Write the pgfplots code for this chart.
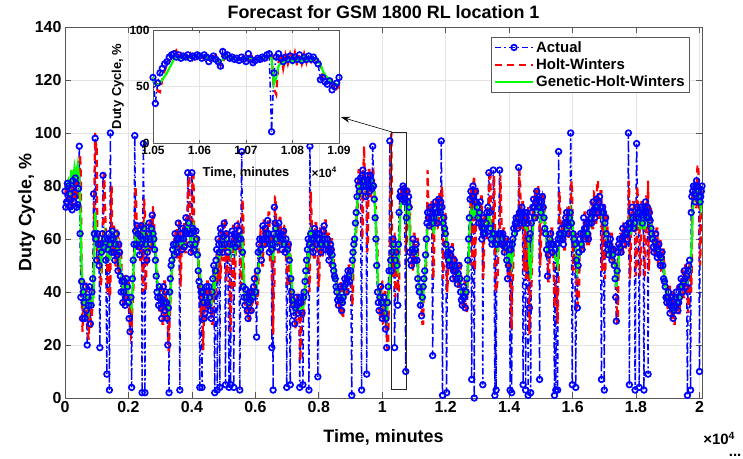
\documentclass[border=0pt]{standalone}
\usepackage{pgfplots}
\pgfplotsset{compat=1.18}
\usepackage{pgfplotstable}
\usepackage{fontspec}
\setmainfont{Liberation Sans}
\usetikzlibrary{arrows.meta}

\definecolor{mblue}{rgb}{0,0,1}
\definecolor{mred}{rgb}{1,0,0}
\definecolor{mgreen}{rgb}{0,1,0}
\definecolor{axgray}{gray}{0.35}

\pgfplotstableread{
t A H G
0 78 80 79
25 72 78 80
50 74 77 80
75 81 75 81
100 80 76 82
125 75 83 80
150 72 81 78
175 77 73 82
200 79 74 86
225 71 80 83
250 82 84 80
275 74 72 84
300 76 79 87
325 83 74 85
350 81 83 82
375 72 82 86
400 73 78 88
425 79 72 85
450 95 80 83
475 62 92 74
500 38 85 62
525 44 40 50
550 30 25 42
575 40 34 39
600 36 32 35
625 30 38 37
650 42 38 40
675 33 44 39
700 20 40 38
725 38 24 35
750 35 22 33
775 42 36 37
800 28 36 34
825 35 26 34
850 40 30 36
875 45 42 38
900 77 42 38
925 62 80 55
950 98 100 70
975 60 95 64
1000 52 96 60
1025 62 50 58
1050 58 55 57
1075 50 62 56
1100 19 60 56
1125 58 42 52
1150 55 45 50
1175 62 57 55
1200 84 58 55
1225 57 85 60
1250 60 80 62
1285 52 62 58
1320 9 58 56
1340 60 40 54
1360 56 44 52
1380 62 58 56
1400 3 54 55
1415 58 38 52
1430 100 40 58
1450 60 75 64
1470 55 80 62
1495 63 54 60
1520 60 58 60
1545 55 65 58
1570 52 62 57
1595 58 50 57
1620 62 50 60
1645 54 64 58
1670 48 64 55
1695 58 46 55
1720 55 50 54
1745 46 58 50
1770 40 57 48
1795 44 38 45
1820 36 38 42
1845 40 34 40
1870 44 34 41
1895 35 46 40
1920 38 46 40
1945 45 36 41
1970 42 37 43
1995 36 45 40
2020 30 44 38
2050 25 28 35
2075 38 24 35
2100 4 26 34
2125 45 35 40
2150 52 38 45
2175 58 52 52
2200 99 55 55
2225 63 80 62
2250 58 72 63
2275 65 56 62
2300 62 60 60
2325 57 66 59
2350 54 64 58
2375 61 52 59
2400 65 52 61
2415 58 66 60
2430 2 66 60
2450 60 40 58
2470 96 45 62
2495 64 75 64
2520 2 70 60
2540 58 40 56
2560 60 44 58
2580 52 63 56
2600 55 62 57
2625 62 52 59
2650 66 53 62
2675 60 68 62
2700 58 68 60
2725 64 55 62
2750 69 56 64
2775 62 72 64
2800 60 72 62
2825 56 58 58
2850 52 58 56
2875 46 50 50
2900 40 50 46
2925 38 40 42
2950 35 38 40
2975 42 33 39
3000 38 33 37
3025 34 42 37
3050 30 40 36
3075 37 28 36
3100 42 28 38
3125 36 44 37
3150 33 44 36
3175 40 31 36
3200 36 32 35
3220 30 38 34
3240 20 38 34
3260 34 18 33
3280 2 18 32
3300 40 30 34
3320 45 35 38
3345 50 46 44
3370 52 46 48
3395 56 54 52
3420 58 54 55
3445 54 61 56
3470 62 60 58
3495 58 64 58
3520 55 64 57
3545 60 53 58
3570 66 53 61
3595 60 68 61
3620 3 68 60
3640 62 42 58
3660 60 46 58
3685 56 62 58
3710 64 62 60
3735 60 66 60
3760 57 66 58
3785 63 55 61
3810 68 55 63
3840 62 70 64
3870 85 70 66
3895 66 84 66
3920 62 86 64
3945 58 60 61
3970 55 60 58
3985 62 55 60
4000 85 54 62
4025 64 84 64
4050 63 84 65
4075 56 62 60
4100 58 64 58
4125 63 56 60
4150 60 56 59
4175 54 62 56
4200 48 62 52
4225 44 46 48
4250 4 46 48
4270 42 35 45
4290 40 30 44
4305 38 40 42
4320 4 38 42
4340 40 28 40
4360 36 18 38
4385 30 36 36
4410 32 38 36
4435 38 30 37
4460 42 30 38
4485 36 44 38
4510 35 44 38
4535 42 33 38
4560 38 34 37
4585 33 40 36
4610 30 40 35
4635 40 28 37
4660 45 28 40
4690 50 46 44
4720 2 48 42
4740 48 38 46
4760 52 42 48
4780 56 54 50
4800 3 54 50
4825 60 44 54
4850 58 48 55
4865 55 60 55
4880 4 60 54
4900 64 45 57
4920 62 50 58
4945 58 66 58
4970 55 64 57
4995 61 52 59
5020 66 52 61
5040 58 68 60
5060 5 68 60
5080 62 44 59
5100 60 48 58
5135 55 62 57
5170 4 62 56
5195 58 40 55
5220 5 25 54
5245 60 38 56
5270 63 45 58
5295 58 65 58
5320 4 65 57
5345 62 42 56
5370 57 48 55
5395 61 58 58
5420 65 58 60
5445 58 67 60
5470 60 66 61
5490 63 56 60
5510 3 58 58
5540 60 42 58
5570 93 45 62
5595 55 75 58
5620 42 70 50
5645 38 44 42
5670 35 40 38
5695 41 32 38
5720 38 32 36
5745 33 40 35
5770 30 40 35
5795 36 28 35
5820 40 28 37
5845 37 42 37
5870 33 42 36
5895 40 32 37
5920 38 34 37
5945 42 40 39
5970 45 40 41
6005 40 47 41
6040 23 46 40
6065 48 35 44
6090 55 40 47
6115 58 56 52
6140 60 56 56
6165 56 63 56
6190 52 62 55
6215 60 50 57
6240 65 50 60
6265 60 67 60
6290 58 67 60
6315 64 56 61
6340 62 56 61
6365 60 65 62
6390 67 64 63
6415 62 70 63
6440 55 70 60
6465 58 52 58
6490 60 52 58
6505 56 62 57
6520 19 62 56
6540 58 40 54
6560 3 24 52
6580 62 38 56
6600 72 42 60
6620 66 76 63
6640 64 76 64
6665 60 62 62
6690 57 62 59
6715 62 55 60
6740 66 55 62
6765 61 68 62
6790 60 68 62
6815 62 58 60
6840 56 58 58
6865 60 55 58
6890 63 55 60
6915 58 65 59
6940 55 65 58
6965 60 52 57
6990 4 52 56
7015 56 42 54
7040 58 45 55
7070 52 60 54
7100 5 60 54
7120 45 35 48
7140 40 35 46
7165 37 40 41
7190 35 38 38
7215 31 36 35
7240 28 36 33
7265 34 26 34
7290 38 26 35
7315 35 40 35
7340 32 40 35
7370 36 30 34
7400 4 30 33
7420 38 14 34
7440 36 28 34
7470 32 38 34
7500 5 38 34
7520 38 30 35
7540 40 32 36
7565 44 42 40
7590 48 42 44
7615 52 50 48
7640 56 50 52
7665 60 58 55
7690 3 58 53
7705 58 40 56
7720 95 45 60
7745 62 78 64
7770 60 70 64
7795 57 60 60
7820 55 58 58
7845 60 53 60
7870 64 53 61
7895 61 66 61
7920 58 66 60
7945 62 56 60
7970 8 56 58
7995 60 42 57
8020 62 46 58
8045 58 64 58
8070 55 64 57
8095 58 53 57
8120 60 53 58
8145 63 62 60
8170 65 62 61
8195 60 67 61
8220 56 67 59
8245 58 55 58
8270 60 55 58
8295 56 62 57
8320 52 62 56
8345 55 50 55
8370 58 50 55
8395 56 60 55
8420 54 60 55
8445 50 52 52
8470 48 52 50
8495 46 46 47
8520 45 46 46
8545 42 44 44
8570 40 44 42
8595 37 38 40
8620 35 38 38
8645 38 32 38
8670 42 32 39
8695 37 44 38
8720 33 44 37
8745 36 30 36
8770 38 30 36
8795 42 40 39
8820 45 40 41
8845 43 47 42
8870 40 47 42
8895 45 38 43
8920 48 38 44
8945 46 50 45
8970 44 50 46
9005 48 45 46
9040 1 45 45
9060 52 35 48
9080 55 40 50
9105 58 56 54
9130 60 58 58
9155 66 60 62
9180 70 62 66
9205 76 72 71
9230 82 72 76
9255 80 86 79
9280 78 86 80
9315 83 76 80
9350 3 80 78
9370 84 60 80
9390 86 65 80
9410 82 88 81
9430 80 95 82
9455 78 80 80
9480 76 78 79
9495 80 76 79
9510 9 80 78
9530 82 55 79
9550 84 60 80
9575 80 86 81
9600 78 86 81
9625 84 76 81
9650 82 76 80
9675 79 84 80
9700 95 84 82
9725 80 85 80
9750 75 80 78
9775 68 72 72
9800 60 72 65
9825 50 58 56
9850 40 58 48
9875 36 38 42
9900 33 38 38
9925 38 30 38
9950 42 30 39
9975 36 44 37
10000 30 44 36
10025 34 28 35
10050 38 28 35
10075 32 40 34
10100 26 40 33
10120 30 24 31
10140 19 24 30
10165 36 18 34
10190 42 20 38
10215 48 44 42
10240 97 44 45
10265 52 96 54
10290 48 100 55
10315 55 46 56
10340 60 46 58
10365 58 62 57
10390 19 62 56
10415 52 38 52
10440 55 42 50
10465 50 56 49
10490 35 56 48
10510 58 40 52
10530 70 40 55
10555 76 72 65
10580 78 72 72
10605 76 80 75
10630 75 80 75
10655 80 74 76
10680 79 74 76
10710 74 80 76
10740 10 78 75
10760 68 55 66
10780 78 60 72
10805 74 80 74
10830 76 80 74
10850 72 76 72
10870 55 74 62
10895 52 52 56
10920 50 52 55
10945 56 48 55
10970 60 48 56
10995 55 62 56
11020 52 62 55
11045 56 50 55
11070 58 50 56
11095 52 60 54
11120 45 60 50
11145 42 44 45
11170 40 42 42
11205 35 40 38
11240 31 38 36
11265 38 28 36
11290 42 28 38
11315 45 44 42
11340 48 44 45
11365 54 50 50
11390 60 50 55
11410 66 62 60
11430 70 86 65
11455 68 72 66
11480 65 72 66
11505 70 64 67
11530 72 64 68
11560 68 74 68
11590 16 74 66
11610 66 45 64
11630 68 50 62
11655 72 70 67
11680 74 70 70
11705 70 76 69
11730 66 76 68
11755 70 64 69
11780 75 64 70
11805 72 78 71
11830 70 78 71
11845 74 70 71
11860 97 68 72
11880 72 80 72
11900 1 76 70
11920 66 45 66
11940 68 50 65
11965 64 70 64
11990 62 70 63
12010 58 62 61
12030 2 60 60
12050 54 40 54
12070 55 45 52
12095 52 56 52
12120 50 56 52
12145 54 48 53
12170 56 48 53
12195 50 58 51
12220 45 58 50
12245 48 44 50
12270 52 44 50
12295 50 54 50
12320 48 54 49
12345 45 46 47
12370 43 46 45
12395 47 42 46
12420 50 42 47
12445 45 52 46
12470 40 52 44
12495 37 38 40
12520 35 38 38
12545 38 34 39
12570 42 34 40
12595 38 44 39
12620 34 44 38
12645 40 32 39
12670 45 32 40
12695 52 48 46
12720 60 48 52
12745 68 62 60
12770 75 62 68
12795 78 80 70
12820 7 78 68
12840 76 50 69
12860 80 55 70
12880 76 82 71
12900 0 84 72
12920 74 48 68
12940 78 55 68
12965 74 80 70
12990 72 80 72
13015 68 74 70
13040 66 74 68
13065 70 64 69
13090 74 64 70
13115 66 76 68
13140 60 76 66
13155 64 62 65
13170 5 62 64
13185 62 45 63
13200 68 50 62
13225 64 70 63
13250 62 70 64
13275 66 60 65
13300 70 60 66
13330 72 72 68
13360 85 72 70
13385 70 86 68
13410 64 86 66
13435 60 62 62
13460 58 62 60
13480 62 58 61
13500 86 58 62
13525 62 84 63
13550 1 70 62
13570 58 42 60
13590 3 40 58
13615 58 42 57
13640 60 45 56
13670 62 62 59
13700 86 62 62
13725 62 84 62
13750 58 72 60
13775 60 56 60
13800 62 56 60
13825 58 64 59
13850 55 64 58
13875 57 54 58
13900 60 54 58
13925 52 60 55
13950 45 60 52
13975 50 44 53
14000 56 44 54
14015 58 56 55
14030 3 58 54
14055 56 40 52
14080 2 26 50
14100 58 40 53
14120 60 45 55
14145 64 60 58
14170 62 60 60
14195 66 62 62
14220 68 62 64
14245 66 70 65
14270 64 70 66
14285 68 64 67
14300 87 64 68
14325 70 86 68
14350 66 80 68
14375 70 64 69
14400 72 64 70
14420 70 74 69
14440 5 74 68
14465 66 48 66
14490 68 52 66
14505 70 68 65
14520 3 70 64
14540 68 45 64
14560 70 50 64
14580 66 70 63
14600 1 72 62
14620 60 40 55
14640 34 24 50
14660 62 38 50
14680 2 40 45
14700 66 40 52
14720 70 48 55
14745 72 72 62
14770 75 72 68
14795 72 78 69
14820 68 78 70
14845 74 66 71
14870 78 66 72
14895 75 80 72
14920 72 80 73
14940 76 72 72
14960 7 74 70
14980 72 50 68
15000 70 55 66
15025 74 72 70
15050 76 72 72
15075 72 78 71
15100 68 78 70
15125 64 66 66
15150 62 66 64
15180 56 60 59
15210 46 60 55
15235 54 44 55
15260 58 44 55
15285 60 60 58
15310 62 60 60
15335 58 64 59
15360 55 64 58
15395 58 54 56
15430 1 34 55
15450 56 40 53
15470 3 42 52
15500 58 40 52
15530 3 28 50
15545 60 40 52
15560 93 45 55
15585 62 78 60
15610 60 72 62
15635 62 60 62
15660 64 60 62
15685 60 66 61
15710 58 66 60
15735 62 56 61
15760 66 56 62
15785 68 68 64
15810 70 68 66
15835 66 72 65
15860 62 72 64
15880 65 60 64
15900 68 60 65
15920 70 70 67
15940 100 70 70
15965 66 82 68
15990 5 78 68
16015 62 48 62
16040 60 52 60
16070 58 62 59
16100 4 62 58
16125 52 40 52
16150 34 35 48
16175 50 36 50
16200 55 36 52
16225 60 56 55
16250 62 56 58
16275 58 64 58
16300 56 64 58
16325 62 55 60
16350 68 55 62
16375 64 70 62
16400 60 70 62
16425 64 58 62
16450 66 58 63
16475 62 68 62
16500 60 68 62
16525 66 58 64
16550 70 58 66
16575 68 74 67
16600 66 74 68
16625 70 64 69
16650 74 64 70
16675 71 78 70
16700 68 78 70
16725 72 66 71
16750 75 66 72
16775 72 82 72
16800 70 82 72
16825 74 68 72
16850 76 68 72
16880 72 78 71
16910 7 78 70
16930 70 48 68
16950 72 52 68
16975 70 74 67
17000 3 74 66
17020 66 45 64
17040 68 50 62
17065 62 70 61
17090 58 70 60
17115 56 56 57
17140 54 56 55
17165 58 52 56
17190 60 52 57
17215 56 62 56
17240 52 62 55
17265 54 50 54
17290 56 50 54
17315 50 58 52
17340 45 58 50
17360 38 44 46
17380 29 44 42
17405 48 28 45
17430 55 30 48
17455 58 56 53
17480 60 56 56
17505 57 62 57
17530 55 62 58
17555 60 54 59
17580 64 54 60
17605 61 66 60
17630 58 66 60
17655 62 56 61
17680 65 56 62
17705 62 66 62
17730 60 66 62
17745 64 60 64
17760 100 60 66
17775 66 82 65
17790 5 76 64
17810 64 45 62
17830 66 50 62
17855 70 68 66
17880 72 68 68
17905 68 74 67
17930 64 74 66
17950 66 64 65
17970 3 66 64
17995 68 46 64
18020 96 50 66
18040 72 80 70
18060 70 75 70
18080 68 70 68
18100 4 72 66
18125 70 46 64
18150 72 50 64
18175 69 74 66
18200 66 74 68
18225 70 64 66
18250 3 66 64
18275 72 46 64
18300 74 52 66
18320 70 76 68
18340 68 76 70
18360 72 70 70
18380 9 82 70
18400 68 48 67
18420 70 52 66
18445 67 72 66
18470 64 72 66
18495 62 62 63
18520 60 62 60
18545 57 62 59
18570 55 62 58
18595 59 54 58
18620 62 54 58
18645 57 64 57
18670 53 64 57
18695 56 50 56
18720 58 50 55
18745 54 60 55
18770 50 60 54
18795 53 48 53
18820 55 48 52
18845 50 56 51
18870 45 56 50
18895 44 44 46
18920 42 44 43
18945 38 42 41
18970 36 42 40
18995 38 34 39
19020 40 34 38
19045 36 42 37
19070 32 42 36
19095 35 30 35
19120 38 30 35
19145 34 40 34
19170 30 40 34
19195 33 28 33
19220 35 28 33
19245 38 36 35
19270 40 36 37
19295 36 42 36
19320 33 42 36
19345 36 32 36
19370 38 32 36
19395 42 40 39
19420 45 40 42
19445 42 48 43
19470 40 48 43
19495 44 38 43
19520 48 38 44
19545 45 50 44
19570 42 50 45
19595 46 44 45
19620 1 44 44
19640 48 32 45
19660 50 36 46
19690 52 52 47
19720 3 52 48
19740 70 40 54
19760 76 50 60
19785 78 78 70
19810 80 78 74
19835 77 82 75
19860 74 82 76
19885 80 72 77
19910 82 72 78
19935 80 88 79
19960 78 88 79
19980 76 80 78
20000 10 80 78
20020 74 50 74
20040 76 58 72
20060 78 78 74
20080 80 78 76
}\maindata

\pgfplotstableread{
t A H G
10500 58 57 58
10505 35 56 52
10510 53 46 51
10515 62 45 53
10520 66 56 56
10525 70 64 59
10530 72 69 62
10535 76 72 66
10540 78 75 70
10545 79 80 74
10550 76 82 76
10555 78 75 74
10560 75 79 75
10565 77 74 75
10570 76 78 76
10575 78 75 75
10580 75 79 76
10585 77 74 75
10590 76 78 77
10595 78 75 76
10600 77 79 77
10605 75 76 76
10610 78 74 77
10615 76 79 75
10620 72 76 76
10625 75 71 74
10630 77 76 76
10635 74 78 75
10640 72 73 73
10645 68 71 72
10650 81 68 74
10655 77 82 76
10660 78 76 77
10665 75 79 75
10670 76 75 76
10675 74 77 75
10680 75 73 74
10685 73 76 75
10690 76 72 74
10695 74 77 76
10700 72 73 74
10705 79 71 75
10710 74 80 76
10715 71 74 74
10720 73 72 73
10725 75 74 75
10730 74 76 74
10735 76 73 75
10740 75 77 75
10745 78 74 76
10750 79 78 77
10755 10 79 75
10760 62 48 52
10765 76 43 58
10770 79 72 68
10775 75 80 71
10780 72 66 70
10785 76 78 74
10790 74 70 72
10795 77 79 75
10800 73 72 71
10805 76 80 75
10810 74 68 72
10815 78 78 75
10820 73 70 72
10825 76 79 76
10830 74 71 73
10835 77 78 75
10840 74 72 73
10845 76 77 75
10850 73 72 74
10855 70 75 72
10860 56 70 70
10865 58 55 64
10870 54 60 60
10875 52 56 58
10880 55 53 56
10885 47 54 54
10890 50 46 53
10895 53 48 52
10900 58 50 52
}\insetdata

\pgfplotsset{
  mstyle/.style={
    scale only axis,
    grid=major,
    major grid style={gray!22, line width=0.5bp},
    tick align=inside,
    axis line style={axgray, line width=0.6bp},
    tick style={axgray, line width=0.6bp},
    scaled x ticks=false,
    /pgf/number format/assume math mode=true,
    legend image code/.code={\draw[mark repeat=2,mark phase=2,##1] plot coordinates {(0bp,0bp) (19bp,0bp) (38bp,0bp)};},
  },
  actualstyle/.style={mblue, line width=1.5bp, dash pattern=on 6bp off 3bp on 1.5bp off 3bp, mark=o, mark size=2.8bp, mark options={solid, line width=1.7bp}},
  hwstyle/.style={mred, line width=2.2bp, dash pattern=on 7bp off 5bp},
  ghwstyle/.style={mgreen, line width=2.2bp},
}

\begin{document}
\begin{tikzpicture}[x=1bp,y=1bp]
\path[use as bounding box] (-65,-61) rectangle (678,398);
\begin{axis}[
  mstyle,
  at={(0bp,0bp)}, anchor=south west,
  width=637bp, height=371bp,
  xmin=0, xmax=20080, ymin=0, ymax=140,
  xtick={0,2000,4000,6000,8000,10000,12000,14000,16000,18000,20000},
  xticklabels={0,0.2,0.4,0.6,0.8,1,1.2,1.4,1.6,1.8,2},
  ytick={0,20,40,60,80,100,120,140},
  major tick length=6bp,
  ticklabel style={font=\bfseries\fontsize{16}{16}\selectfont},
  xlabel={Time, minutes}, ylabel={Duty Cycle, \%},
  xlabel style={font=\bfseries\fontsize{18}{18}\selectfont, at={(axis description cs:0.5,-0.105)}, anchor=center},
  ylabel style={font=\bfseries\fontsize{18}{18}\selectfont, at={(axis description cs:-0.06,0.5)}, anchor=center},
  title={Forecast for GSM 1800 RL location 1},
  title style={font=\bfseries\fontsize{18}{18}\selectfont, at={(axis description cs:0.5,1.025)}, anchor=center},
  legend style={at={(0.981,0.973)}, anchor=north east, font=\bfseries\fontsize{15}{15}\selectfont,
    draw=axgray, fill=white, line width=0.6bp, row sep=1bp, inner xsep=3bp, inner ysep=2bp},
  legend cell align=left,
  clip=false,
]
\addplot[actualstyle] table[x=t,y=A]{\maindata};
\addlegendentry{Actual}
\addplot[hwstyle] table[x=t,y=H]{\maindata};
\addlegendentry{Holt-Winters}
\addplot[ghwstyle] table[x=t,y=G]{\maindata};
\addlegendentry{Genetic-Holt-Winters}
\draw[black!85, line width=0.7bp] (axis cs:10300,3.4) rectangle (axis cs:10770,100.4);
\draw[black, line width=0.6bp, -{Stealth[length=9bp,width=6bp]}] (axis cs:10300,100.4) -- (axis cs:8700,106);
\node[font=\bfseries\fontsize{15}{15}\selectfont, anchor=center, inner sep=0pt] at (rel axis cs:1.027,-0.11) {×10\textsuperscript{4}};
\node[font=\bfseries\fontsize{15}{15}\selectfont, anchor=base, inner sep=0pt] at (rel axis cs:1.052,-0.158) {...};
\end{axis}
\begin{axis}[
  mstyle,
  at={(88bp,255bp)}, anchor=south west,
  width=186bp, height=113bp,
  axis background/.style={fill=white},
  xmin=10500, xmax=10900, ymin=0, ymax=100,
  xtick={10500,10600,10700,10800,10900},
  xticklabels={1.05,1.06,1.07,1.08,1.09},
  ytick={0,50,100},
  major tick length=3bp,
  ticklabel style={font=\bfseries\fontsize{12}{12}\selectfont},
  xlabel={Time, minutes}, ylabel={Duty Cycle, \%},
  xlabel style={font=\bfseries\fontsize{13}{13}\selectfont, at={(axis description cs:0.5,-0.26)}, anchor=center},
  ylabel style={font=\bfseries\fontsize{13}{13}\selectfont, at={(axis description cs:-0.19,0.5)}, anchor=center},
  clip=false,
]
\addplot[actualstyle] table[x=t,y=A]{\insetdata};
\addplot[hwstyle] table[x=t,y=H]{\insetdata};
\addplot[ghwstyle] table[x=t,y=G]{\insetdata};
\node[font=\bfseries\fontsize{12}{12}\selectfont, anchor=center] at (rel axis cs:0.92,-0.26) {×10\textsuperscript{4}};
\end{axis}
\end{tikzpicture}
\end{document}
